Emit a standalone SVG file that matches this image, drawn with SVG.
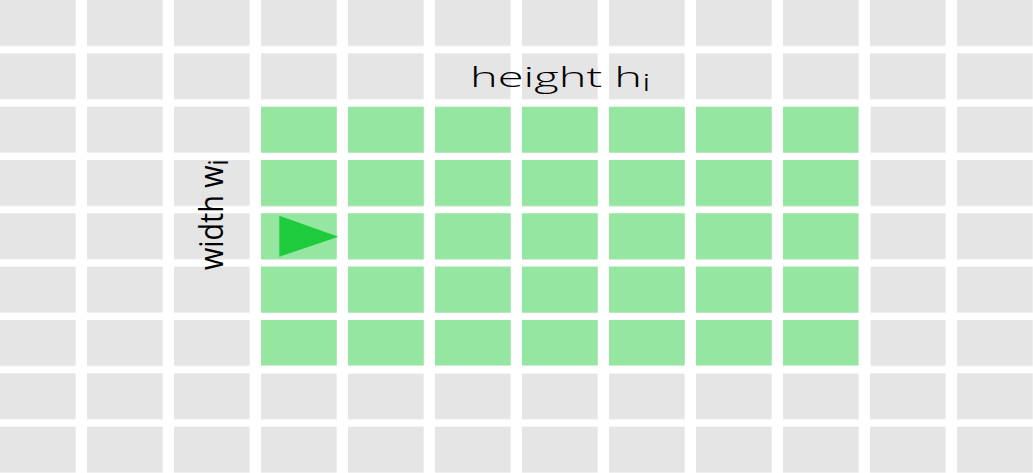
<svg xmlns="http://www.w3.org/2000/svg" width="1033" height="473" viewBox="0 0 1033 473">
<defs>
<style>
.c{fill:#e5e5e5}
.g{fill:#94e6a0}
.t{font-family:"Open Sans",sans-serif;fill:#000}
</style>
<pattern id="grid" x="0" y="0" width="87" height="53.33" patternUnits="userSpaceOnUse">
<rect class="c" x="0" y="0" width="75.7" height="46"/>
</pattern>
<pattern id="ggrid" x="0" y="0" width="87" height="53.33" patternUnits="userSpaceOnUse">
<rect class="g" x="0" y="0" width="75.7" height="46"/>
</pattern>
</defs>
<rect width="1033" height="473" fill="#ffffff"/>
<g id="background-grid">
<rect x="0" y="0" width="1033" height="473" fill="url(#grid)"/>
</g>
<g id="selected-region">
<rect x="261" y="106.67" width="609" height="266.67" fill="url(#ggrid)"/>
<rect x="858.7" y="106.67" width="12" height="266.67" fill="#ffffff"/>
<rect x="261" y="365.67" width="609" height="8" fill="#ffffff"/>
</g>
<g id="arrow">
<polygon points="279.3,215.7 279.3,256.7 338.3,236.7" fill="#1ecb3c"/>
</g>
<g id="label-height">
<text class="t" font-weight="350" transform="translate(470,86.5) scale(1.68,1)" font-size="28">height h<tspan font-size="23" dy="4">i</tspan></text>
</g>
<g id="label-width">
<text class="t" font-weight="400" transform="translate(223,270) rotate(-90) scale(0.87,1)" font-size="33">width w<tspan font-size="27" dy="5">i</tspan></text>
</g>
</svg>
